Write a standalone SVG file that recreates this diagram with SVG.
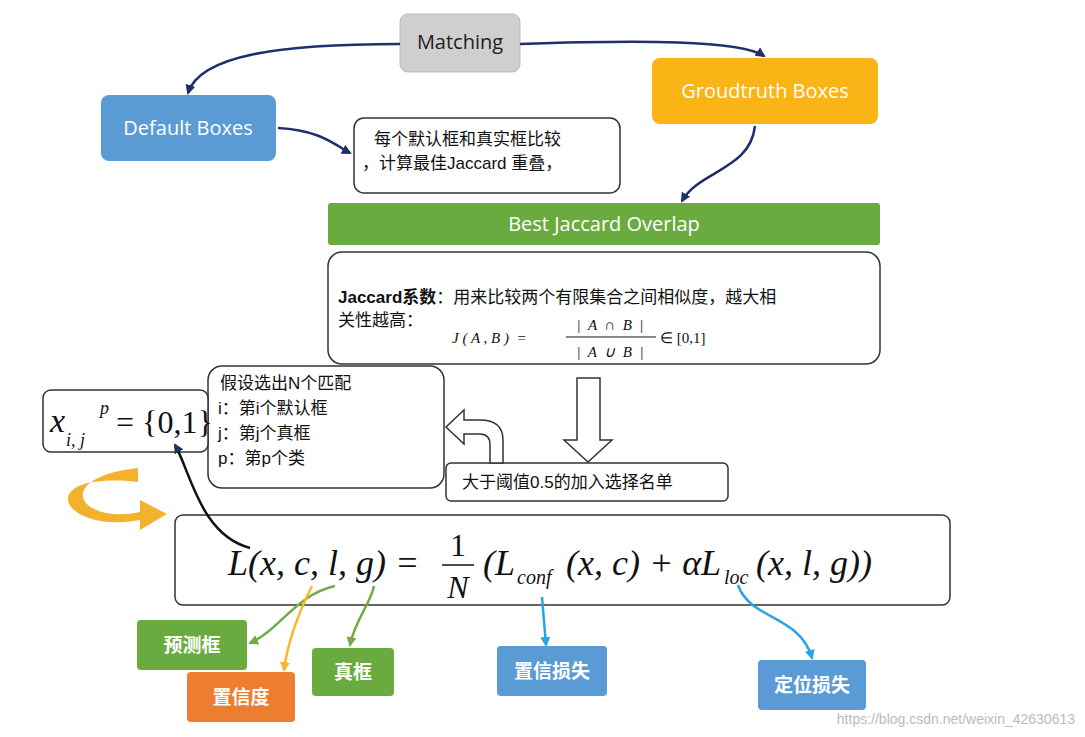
<svg xmlns="http://www.w3.org/2000/svg" width="1085" height="737" viewBox="0 0 1085 737">
<style>
.lbl{font-family:"Open Sans","Noto Sans CJK SC",sans-serif;fill:#fff;font-size:20px;text-anchor:middle}
.cn{font-family:"Noto Sans CJK SC",sans-serif;fill:#fff;font-size:19px;font-weight:bold;text-anchor:middle}
.txt{font-family:"Liberation Sans","Noto Sans CJK SC",sans-serif;fill:#111;font-size:17px}
.box{fill:#fff;stroke:#333;stroke-width:1.5}
.m{font-family:"Liberation Serif",serif;font-style:italic;fill:#111}
.con{fill:none;stroke-width:2.5}
</style>
<defs>
<marker id="an" markerWidth="10" markerHeight="10" refX="8" refY="5" orient="auto" markerUnits="userSpaceOnUse"><path d="M0,0L10,5L0,10z" fill="#1f2f6b"/></marker>
<marker id="ag" markerWidth="10" markerHeight="10" refX="8" refY="5" orient="auto" markerUnits="userSpaceOnUse"><path d="M0,0L10,5L0,10z" fill="#70ad47"/></marker>
<marker id="ab" markerWidth="10" markerHeight="10" refX="8" refY="5" orient="auto" markerUnits="userSpaceOnUse"><path d="M0,0L10,5L0,10z" fill="#2aa3e8"/></marker>
<marker id="ao" markerWidth="10" markerHeight="10" refX="8" refY="5" orient="auto" markerUnits="userSpaceOnUse"><path d="M0,0L10,5L0,10z" fill="#f7b92a"/></marker>
</defs>
<rect width="1085" height="737" fill="#fff"/>
<g id="matching"><rect x="400" y="14" width="120" height="58" rx="8" fill="#cfcfcf" stroke="#bbb"/><text x="460" y="49" class="lbl" style="fill:#222">Matching</text></g>
<g id="groundtruth"><rect x="652" y="58" width="226" height="66" rx="8" fill="#fbb416"/><text x="765" y="98" class="lbl">Groudtruth Boxes</text></g>
<g id="default"><rect x="101" y="95" width="175" height="66" rx="8" fill="#5b9bd5"/><text x="188" y="135" class="lbl">Default Boxes</text></g>
<g id="note"><rect x="354" y="118" width="266" height="75" rx="10" class="box"/><text x="374" y="145" class="txt">每个默认框和真实框比较</text><text x="362" y="169" class="txt">，计算最佳Jaccard 重叠，</text></g>
<g id="best"><rect x="328" y="203" width="552" height="42" rx="3" fill="#6aab3f"/><text x="604" y="231" class="lbl">Best Jaccard Overlap</text></g>
<g id="jaccard"><rect x="328" y="252" width="552" height="112" rx="14" class="box"/>
<text x="338" y="303" class="txt"><tspan font-weight="bold">Jaccard系数</tspan>：用来比较两个有限集合之间相似度，越大相</text>
<text x="338" y="326" class="txt">关性越高：</text>
<text x="452" y="343" class="m" font-size="15" xml:space="preserve">J ( A , B )  =</text>
<text x="610" y="330" class="m" font-size="15" text-anchor="middle" xml:space="preserve">|  A  ∩  B  |</text>
<line x1="566" y1="337" x2="656" y2="337" stroke="#111"/>
<text x="610" y="357" class="m" font-size="15" text-anchor="middle" xml:space="preserve">|  A  ∪  B  |</text>
<text x="660" y="343" font-family="Liberation Serif,serif" font-size="15" fill="#111">∈ [0,1]</text></g>
<g id="hyp"><rect x="208" y="366" width="236" height="122" rx="14" class="box"/>
<text x="220" y="389" class="txt" font-size="18">假设选出N个匹配</text>
<text x="218" y="414" class="txt" font-size="18">i：第i个默认框</text>
<text x="218" y="439" class="txt" font-size="18">j：第j个真框</text>
<text x="218" y="464" class="txt" font-size="18">p：第p个类</text></g>
<g id="xij"><rect x="43" y="390" width="165" height="62" rx="8" class="box"/>
<text x="50" y="432" class="m" font-size="34">x</text><text x="66" y="446" class="m" font-size="18">i, j</text><text x="100" y="414" class="m" font-size="18">p</text>
<text x="116" y="433" font-family="Liberation Serif,serif" font-size="32" fill="#111">= {0,1}</text></g>
<g id="thr"><rect x="446" y="463" width="282" height="38" rx="5" class="box"/><text x="462" y="488" class="txt">大于阈值0.5的加入选择名单</text></g>
<g id="loss"><rect x="175" y="515" width="775" height="90" rx="8" class="box"/>
<text x="228" y="575" class="m" font-size="36">L(x, c, l, g) =</text>
<text x="458" y="556" font-family="Liberation Serif,serif" font-size="32" fill="#111" text-anchor="middle">1</text>
<line x1="442" y1="565" x2="474" y2="565" stroke="#111" stroke-width="1.5"/>
<text x="458" y="598" class="m" font-size="32" text-anchor="middle">N</text>
<text x="483" y="575" class="m" font-size="36">(L</text><text x="517" y="584" class="m" font-size="20">conf</text>
<text x="566" y="575" class="m" font-size="36">(x, c) + αL</text><text x="724" y="584" class="m" font-size="20">loc</text>
<text x="756" y="575" class="m" font-size="36">(x, l, g))</text></g>
<g id="pred"><rect x="137" y="620" width="110" height="50" rx="4" fill="#6aab3f"/><text x="192" y="652" class="cn">预测框</text></g>
<g id="truebox"><rect x="312" y="648" width="82" height="48" rx="4" fill="#6aab3f"/><text x="353" y="679" class="cn">真框</text></g>
<g id="conf"><rect x="187" y="672" width="108" height="50" rx="4" fill="#ed7d31"/><text x="241" y="704" class="cn">置信度</text></g>
<g id="confloss"><rect x="497" y="646" width="110" height="50" rx="4" fill="#5b9bd5"/><text x="552" y="678" class="cn">置信损失</text></g>
<g id="locloss"><rect x="758" y="660" width="108" height="50" rx="4" fill="#5b9bd5"/><text x="812" y="692" class="cn">定位损失</text></g>
<g id="connectors">
<path class="con" stroke="#1f2f6b" d="M400,44 C280,44 200,55 188,93" marker-end="url(#an)"/>
<path class="con" stroke="#1f2f6b" d="M520,44 C640,40 740,40 764,56" marker-end="url(#an)"/>
<path class="con" stroke="#1f2f6b" d="M278,128 C320,130 335,145 350,153" marker-end="url(#an)"/>
<path class="con" stroke="#1f2f6b" d="M755,126 C750,170 700,170 682,201" marker-end="url(#an)"/>
<path class="con" stroke="#111" d="M250,548 C200,535 190,470 175,445" marker-end="url(#an)"/>
<path class="con" stroke="#70ad47" d="M335,586 C295,595 280,630 250,643" marker-end="url(#ag)"/>
<path class="con" stroke="#f7b92a" d="M312,586 C300,610 288,640 284,670" marker-end="url(#ao)"/>
<path class="con" stroke="#70ad47" d="M374,586 C370,605 355,620 350,645" marker-end="url(#ag)"/>
<path class="con" stroke="#2aa3e8" d="M542,597 L546,645" marker-end="url(#ab)"/>
<path class="con" stroke="#2aa3e8" d="M738,585 C750,620 800,615 812,658" marker-end="url(#ab)"/>
<path d="M577,378 L600,378 L600,440 L612,440 L588,462 L564,440 L577,440 Z" fill="#fff" stroke="#333" stroke-width="1.5"/>
<path d="M503,463 L503,440 Q503,420 480,420 L464,420 L464,410 L446,427 L464,444 L464,434 L480,434 Q490,434 490,445 L490,463 Z" fill="#fff" stroke="#333" stroke-width="1.5"/>
<path d="M138,468 C50,478 80,525 140,512 L140,500 L167,514 L140,530 L140,520 C60,535 30,470 138,482 Z" fill="#f2b22c"/>
</g>
<text x="1075" y="724" font-family="Liberation Sans,sans-serif" font-size="14" fill="#bbb" text-anchor="end">https://blog.csdn.net/weixin_42630613</text>
</svg>
